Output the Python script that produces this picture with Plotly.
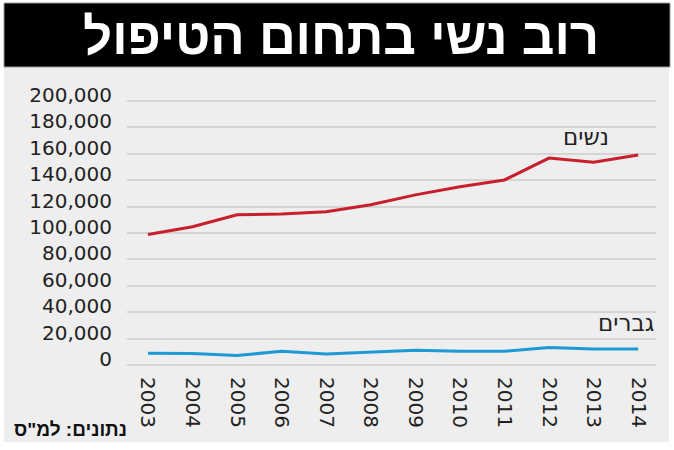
import plotly.graph_objects as go

years = [2003, 2004, 2005, 2006, 2007, 2008, 2009, 2010, 2011, 2012, 2013, 2014]
women = [98800, 104700, 113700, 114300, 116000, 121300, 128800, 134900, 140100, 156600, 153400, 159000]
men = [9100, 9000, 7500, 10600, 8600, 10100, 11400, 10700, 10700, 13500, 12300, 12300]
y_ticks = [0, 20000, 40000, 60000, 80000, 100000, 120000, 140000, 160000, 180000, 200000]
y_tick_text = [f"{v:,}" for v in y_ticks]

title_text = "רוב נשי בתחום הטיפול"
women_label = "נשים"
men_label = "גברים"
source_text = 'נתונים: למ"ס'

W, H = 674, 450
ML, MR, MT, MB = 127, 18, 98, 82
PW, PH = W - ML - MR, H - MT - MB

def px(x):
    return (x - ML) / PW

def py(y):
    return (H - MB - y) / PH

RED = "#c81f2c"
BLUE = "#1d9ad6"
TXT = "#222222"
FONT = "DejaVu Sans"

fig = go.Figure()
fig.add_trace(go.Scatter(x=years, y=women, mode="lines",
                         line=dict(color=RED, width=3), hoverinfo="skip"))
fig.add_trace(go.Scatter(x=years, y=men, mode="lines",
                         line=dict(color=BLUE, width=3), hoverinfo="skip"))

shapes = [
    dict(type="rect", xref="paper", yref="paper", x0=px(4), x1=px(669), y0=py(442), y1=py(66),
         fillcolor="#eeeeee", line=dict(width=0), layer="below"),
    dict(type="rect", xref="paper", yref="paper", x0=px(4), x1=px(670), y0=py(67), y1=py(3),
         fillcolor="#000000", line=dict(color="#9a9a9a", width=1), layer="below"),
]

annotations = [
    dict(text=f"<b>{title_text}</b>", xref="paper", yref="paper", x=px(341), y=py(36),
         xanchor="center", yanchor="middle", showarrow=False,
         font=dict(family="Liberation Sans", size=51, color="white")),
    dict(text=women_label, xref="paper", yref="paper", x=px(611), y=py(137),
         xanchor="right", yanchor="middle", showarrow=False,
         font=dict(family=FONT, size=23, color=TXT)),
    dict(text=men_label, xref="paper", yref="paper", x=px(656), y=py(323),
         xanchor="right", yanchor="middle", showarrow=False,
         font=dict(family=FONT, size=23, color=TXT)),
    dict(text=f"<b>{source_text}</b>", xref="paper", yref="paper", x=px(12), y=py(429),
         xanchor="left", yanchor="middle", showarrow=False,
         font=dict(family="Liberation Sans", size=19, color="#111111")),
]

fig.update_layout(
    width=W, height=H,
    margin=dict(l=ML, r=MR, t=MT, b=MB, pad=0, autoexpand=False),
    paper_bgcolor="white",
    plot_bgcolor="rgba(0,0,0,0)",
    showlegend=False,
    shapes=shapes,
    annotations=annotations,
    xaxis=dict(range=[2002.53, 2014.40], tickvals=years, ticktext=[str(y) for y in years],
               tickangle=90, showgrid=False, zeroline=False, showline=False,
               ticks="", ticklabelstandoff=8, automargin=False,
               tickfont=dict(family=FONT, size=20, color=TXT), fixedrange=True),
    yaxis=dict(range=[-2000, 202000], tickvals=y_ticks, ticktext=y_tick_text,
               showgrid=True, gridcolor="#d4d4d4", gridwidth=2, zeroline=False,
               showline=False, ticks="", ticklabelstandoff=14, ticklabelshift=-6,
               automargin=False,
               tickfont=dict(family=FONT, size=20, color=TXT), fixedrange=True),
)

fig.write_html("out.html", config={"displayModeBar": False},
               post_script="document.body.style.margin='0';document.body.style.padding='0';")
